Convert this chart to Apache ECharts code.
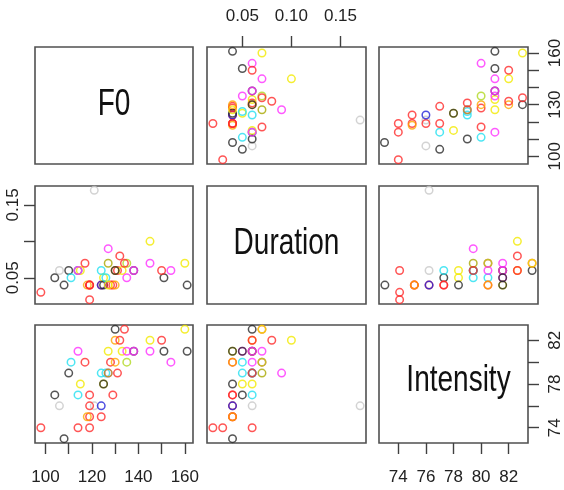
<!DOCTYPE html>
<html>
<head>
<meta charset="utf-8">
<script src="https://cdn.jsdelivr.net/npm/echarts@6/dist/echarts.min.js"></script>
<style>html,body{margin:0;padding:0;background:#fff}#c{width:564px;height:490px}</style>
</head>
<body>
<div id="c"></div>
<script>
// ---- data (one entry per observation) ----
const F0 = [108, 98, 119, 114, 119, 124, 118, 106, 121, 119, 124, 104, 114, 119, 129, 115, 125, 125,
  110, 124, 126, 127, 127, 131, 111, 117, 128, 130, 135, 154, 114, 127, 133, 135, 138, 138, 145, 151, 161,
  130, 132, 145, 150, 130, 134, 160];
const DURATION = [0.04, 0.03, 0.02, 0.06, 0.04, 0.04, 0.04, 0.06, 0.17, 0.04, 0.04, 0.05, 0.06, 0.04, 0.04, 0.06, 0.05, 0.04,
  0.06, 0.06, 0.05, 0.09, 0.07, 0.06, 0.05, 0.07, 0.04, 0.04, 0.07, 0.06, 0.06, 0.04, 0.06, 0.05, 0.06, 0.06, 0.07, 0.05, 0.04,
  0.06, 0.08, 0.10, 0.06, 0.06, 0.07, 0.07];
const INTENSITY = [73, 74, 74, 74, 75, 75, 75, 76, 76, 76, 76, 77, 77, 77, 77, 78, 78, 78,
  79, 79, 79, 79, 79, 79, 80, 80, 80, 80, 80, 80, 81, 81, 81, 81, 81, 81, 81, 81, 81,
  82, 82, 82, 82, 83, 83, 83];
const GROUP = ['black', 'red', 'red', 'red', 'red', 'red', 'orange', 'lightgray', 'lightgray', 'red', 'blue', 'black', 'cyan', 'red', 'red', 'yellow', 'yellow', 'black',
  'black', 'cyan', 'cyan', 'magenta', 'olive', 'red', 'cyan', 'red', 'red', 'orange', 'yellowgreen', 'magenta', 'magenta', 'yellow', 'yellow', 'magenta', 'black', 'magenta', 'magenta', 'black', 'black',
  'orange', 'red', 'yellow', 'red', 'black', 'red', 'yellow'];
const VAR_NAMES = ['F0', 'Duration', 'Intensity'];
const F0_TICKS = [100, 110, 120, 130, 140, 150, 160];
const DUR_TICKS = [0.05, 0.10, 0.15];
const INT_TICKS = [74, 76, 78, 80, 82];

// ---- styling ----
const PALETTE = {black: '#2a2a2a', red: '#ff2a2a', orange: '#ffa500', lightgray: '#c8c8c8', blue: '#2020d8',
  cyan: '#22e0f0', yellow: '#f2ea00', magenta: '#ff30ff', olive: '#a8a800', yellowgreen: '#b0d820'};
const VALUES = [F0, DURATION, INTENSITY];
const LIMITS = [[95.48, 163.52], [0.014, 0.176], [72.6, 83.4]];
const COL_X = [35, 207, 379], COL_W = [158, 159, 159];
const ROW_Y = [47, 186, 325], ROW_H = [117, 118, 118];
const FONT = "'Liberation Sans Narrow', 'Liberation Sans', sans-serif";
const fmt = (v, k) => k === 1 ? v.toFixed(2) : String(Math.round(v));

// tick / label sets by variable and side
const TICKS = [F0_TICKS, DUR_TICKS, INT_TICKS];
const X_LABELS = [[100, 120, 140, 160], [0.05, 0.10, 0.15], [74, 76, 78, 80, 82]];
const Y_LABELS = [[100, 130, 160], [0.05, 0.15], [74, 78, 82]];

const grids = [], xAxes = [], yAxes = [], series = [];
for (let i = 0; i < 3; i++) {
  for (let j = 0; j < 3; j++) {
    const k = i * 3 + j;
    grids.push({left: COL_X[j], top: ROW_Y[i], width: COL_W[j], height: ROW_H[i],
      show: true, borderColor: '#505050', borderWidth: 1.6, backgroundColor: '#fff'});
    const showX = (j === 1 && i === 0) || (j !== 1 && i === 2);
    const showY = (i === 1 && j === 0) || (i !== 1 && j === 2);
    xAxes.push({type: 'value', gridIndex: k, min: LIMITS[j][0], max: LIMITS[j][1],
      position: j === 1 ? 'top' : 'bottom',
      axisLine: {show: false}, splitLine: {show: false},
      axisTick: {show: showX, inside: false, length: 11, customValues: TICKS[j], lineStyle: {color: '#404040', width: 1.4}},
      axisLabel: {show: showX, customValues: X_LABELS[j], margin: j === 1 ? 22 : 26,
        formatter: v => fmt(v, j), fontFamily: FONT, fontSize: 17, color: '#222'}});
    yAxes.push({type: 'value', gridIndex: k, min: LIMITS[i][0], max: LIMITS[i][1],
      position: i === 1 ? 'left' : 'right',
      axisLine: {show: false}, splitLine: {show: false},
      axisTick: {show: showY, inside: false, length: 11, customValues: TICKS[i], lineStyle: {color: '#404040', width: 1.4}},
      axisLabel: {show: showY, customValues: Y_LABELS[i], rotate: 90, margin: i === 1 ? 13 : 19,
        formatter: v => fmt(v, i), fontFamily: FONT, fontSize: 17, color: '#222'}});
    if (i !== j) {
      const xs = VALUES[j], ys = VALUES[i];
      series.push({type: 'scatter', xAxisIndex: k, yAxisIndex: k, symbol: 'circle', symbolSize: 7.5,
        silent: true, animation: false,
        itemStyle: {color: 'rgba(0,0,0,0)', borderWidth: 1.5},
        data: xs.map((x, n) => ({value: [x, ys[n]], itemStyle: {borderColor: PALETTE[GROUP[n]]}}))});
    }
  }
}

const LABEL_Y_SHIFT = [-0.5, -1, -3];
const graphics = VAR_NAMES.map((name, d) => ({
  type: 'text', z: 10,
  x: COL_X[d] + COL_W[d] / 2, y: ROW_Y[d] + ROW_H[d] / 2 + LABEL_Y_SHIFT[d], scaleY: 1.3,
  style: {text: name, font: "28px " + FONT, align: 'center', verticalAlign: 'middle', fill: '#111'}
}));

const chart = echarts.init(document.getElementById('c'), null, {renderer: 'canvas'});
chart.setOption({animation: false, grid: grids, xAxis: xAxes, yAxis: yAxes, series: series, graphic: graphics});
</script>
</body>
</html>
